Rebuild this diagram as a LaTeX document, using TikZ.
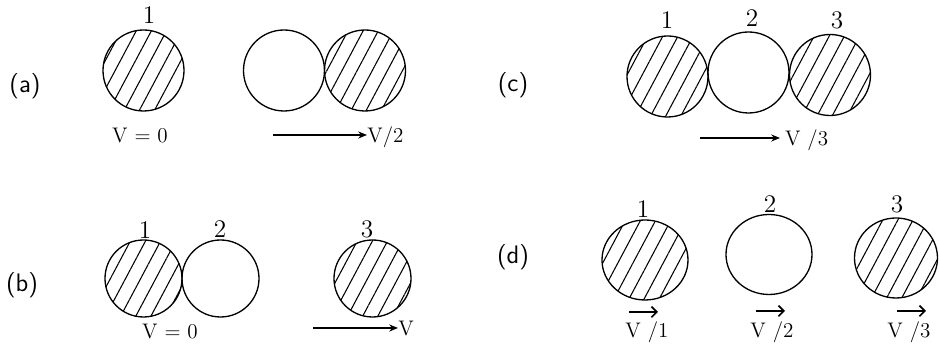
\documentclass[tikz,border=0pt]{standalone}
\usepackage{tikz}
\usetikzlibrary{arrows.meta,patterns.meta,shapes.geometric}

\begin{document}
\begin{tikzpicture}[
    ball/.style={circle, draw, line width=0.75pt, inner sep=0pt, minimum size=1.62cm},
    smallball/.style={ball, minimum size=1.54cm},
    egg/.style={ellipse, draw, line width=0.75pt, inner sep=0pt, minimum width=1.72cm, minimum height=1.6cm},
    hatched/.style={pattern={Lines[angle=62,distance=7.6pt,line width=0.6pt]}},
    num/.style={font=\Large, inner sep=1pt},
    txt/.style={font=\large, inner sep=1pt},
    part/.style={font=\sffamily\Large},
    vel/.style={-{Stealth[length=5pt,width=4pt]}, line width=0.6pt},
    kick/.style={-{Straight Barb[length=3pt,width=6pt]}, line width=1pt}
  ]
  \useasboundingbox (0,0) rectangle (18.78,6.88);

  % (a)
  \node[part] (pa) at (0.50,5.16) {(a)};
  \node[ball, hatched] (a1) at (2.87,5.47) {};
  \node[num] (a1n) at (2.98,6.58) {1};
  \node[txt] (a1v) at (2.80,4.16) {V = 0};
  \node[ball] (a2) at (5.68,5.47) {};
  \node[ball, hatched] (a3) at (7.30,5.47) {};
  \coordinate (at) at (5.46,4.18);
  \coordinate (ah) at (7.34,4.18);
  \draw[vel] (at) -- (ah);
  \node[txt, anchor=base west, inner sep=0pt] (av) at (7.34,4.02) {V/2};

  % (c)
  \node[part] (pc) at (10.26,5.18) {(c)};
  \node[ball, hatched] (c1) at (13.35,5.35) {};
  \node[ball] (c2) at (14.97,5.43) {};
  \node[ball, hatched] (c3) at (16.60,5.38) {};
  \node[num] (c1n) at (13.34,6.48) {1};
  \node[num] (c2n) at (15.04,6.52) {2};
  \node[num] (c3n) at (16.74,6.48) {3};
  \coordinate (ct) at (14.00,4.12);
  \coordinate (ch) at (15.60,4.12);
  \draw[vel] (ct) -- (ch);
  \node[txt, anchor=base west] (cv) at (15.66,3.96) {V /3};

  % (b)
  \node[part] (pb) at (0.44,1.18) {(b)};
  \node[smallball, hatched] (b1) at (2.87,1.31) {};
  \node[smallball] (b2) at (4.41,1.31) {};
  \node[smallball, hatched] (b3) at (7.45,1.31) {};
  \node[num] (b1n) at (2.90,2.28) {1};
  \node[num] (b2n) at (4.40,2.30) {2};
  \node[num] (b3n) at (7.34,2.30) {3};
  \node[txt] (b1v) at (3.40,0.24) {V = 0};
  \coordinate (bt) at (6.26,0.32);
  \coordinate (bh) at (7.96,0.32);
  \draw[vel] (bt) -- (bh);
  \node[txt, anchor=base west, inner sep=0pt] (bv) at (7.96,0.16) {V};

  % (d)
  \node[part] (pd) at (10.26,1.74) {(d)};
  \node[egg, hatched] (d1) at (12.90,1.68) {};
  \node[egg] (d2) at (15.38,1.79) {};
  \node[egg, hatched, minimum width=1.66cm] (d3) at (17.92,1.72) {};
  \node[num] (d1n) at (12.86,2.70) {1};
  \node[num] (d2n) at (15.40,2.80) {2};
  \node[num] (d3n) at (17.94,2.80) {3};
  \foreach \n/\x/\y in {1/12.58/0.64, 2/15.12/0.66, 3/17.94/0.66}{
    \coordinate (d\n t) at (\x,\y);
    \coordinate (d\n h) at (\x+0.58,\y);
    \draw[kick] (d\n t) -- (d\n h);
  }
  \node[txt] (d1v) at (12.94,0.24) {V /1};
  \node[txt] (d2v) at (15.44,0.24) {V /2};
  \node[txt] (d3v) at (18.18,0.24) {V /3};
\end{tikzpicture}
\end{document}
